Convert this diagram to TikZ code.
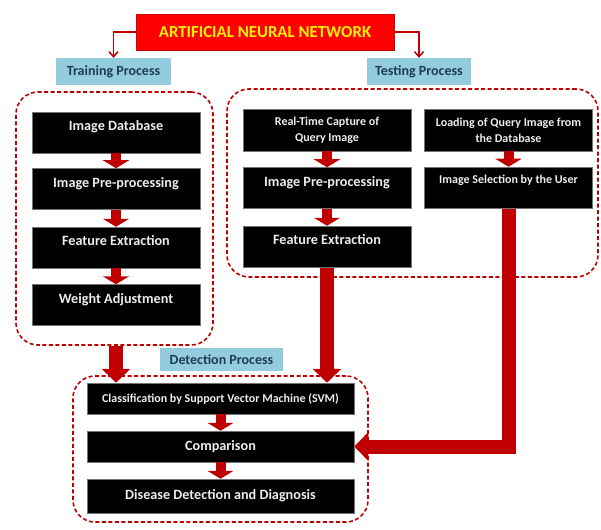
\documentclass[tikz,border=0pt]{standalone}
\usepackage{fontspec}
\setmainfont{Carlito}
\usetikzlibrary{arrows.meta,backgrounds}
\definecolor{darkred}{HTML}{C00000}
\definecolor{lblblue}{HTML}{93CDDD}
\definecolor{lbltext}{HTML}{1F3A5A}
\tikzset{
  annbox/.style={fill=red, draw=red!80!black, line width=0.6pt, text=yellow, font=\bfseries\fontsize{16.8}{19}\selectfont, minimum width=258pt, minimum height=36pt, inner sep=0pt},
  lblbox/.style={fill=lblblue, text=lbltext, font=\bfseries\fontsize{14}{16}\selectfont, minimum height=27pt, inner sep=0pt},
  grpbox/.style={draw=darkred, line width=1.6pt, dash pattern=on 4pt off 2.5pt, rounded corners=22pt, inner sep=0pt},
  procbox/.style={fill=black, draw=black!55, line width=0.5pt, text=white!93!black, font=\bfseries\fontsize{14.2}{16}\selectfont, minimum width=168pt, inner sep=0pt, align=center},
  uppertext/.style={text height=18.5pt, text depth=22.5pt},
  smalltext/.style={font=\bfseries\fontsize{12}{16}\selectfont},
  widebox/.style={minimum width=267pt},
  smallarrow/.style={draw=darkred, line width=10pt, -{Triangle[length=8pt, width=26pt]}},
  bigarrow/.style={draw=darkred, line width=14pt, line join=miter, -{Triangle[length=14pt, width=28pt]}},
  annarrow/.style={draw=darkred, line width=1.5pt, -{Straight Barb[length=5pt, width=9pt]}}
}

\begin{document}
\begin{tikzpicture}[x=1pt, y=-1pt]
  \useasboundingbox (0,0) rectangle (601,529);

  % header
  \node[annbox] (ann) at (265,32) {ARTIFICIAL NEURAL NETWORK};
  \node[lblbox, minimum width=115pt] (trainlbl) at (113.5,71.5) {Training Process};
  \node[lblbox, minimum width=104pt] (testlbl) at (419,71.5) {Testing Process};
  \draw[annarrow] (ann.west) -| (trainlbl.north);
  \draw[annarrow] (ann.east) -| (testlbl.north);

  % frames
  \node[grpbox, minimum width=197pt, minimum height=253pt] (traingrp) at (114.5,218.5) {};
  \node[grpbox, minimum width=371pt, minimum height=188pt] (testgrp) at (412.5,183) {};
  \node[grpbox, minimum width=295pt, minimum height=146pt] (detgrp) at (220.5,449) {};
  \node[lblbox, minimum width=123pt, minimum height=23pt] (detlbl) at (221.5,359.5) {Detection Process};

  % training
  \node[procbox, uppertext] (imgdb) at (116,132.5) {Image Database};
  \node[procbox, uppertext] (trpre) at (116,189) {Image Pre-processing};
  \node[procbox, uppertext] (trfe) at (116,247.5) {Feature Extraction};
  \node[procbox, uppertext] (weight) at (116,305) {Weight Adjustment};
  \foreach \a/\b in {imgdb/trpre, trpre/trfe, trfe/weight}
    \draw[smallarrow] (\a.south) -- (\b.north);

  % testing
  \node[procbox, smalltext, minimum height=42pt] (capture) at (327,130) {Real-Time Capture of\\Query Image};
  \node[procbox, uppertext] (tspre) at (327,188) {Image Pre-processing};
  \node[procbox, uppertext] (tsfe) at (327,246.5) {Feature Extraction};
  \node[procbox, smalltext, minimum height=42pt] (loading) at (508.5,130) {Loading of Query Image from\\the Database};
  \node[procbox, smalltext, text height=16pt, text depth=25pt] (select) at (508.5,187.5) {Image Selection by the User};
  \foreach \a/\b in {capture/tspre, tspre/tsfe, loading/select}
    \draw[smallarrow] (\a.south) -- (\b.north);

  % detection
  \node[procbox, widebox, smalltext, minimum height=31pt] (svm) at (220.5,398.5) {Classification by Support Vector Machine (SVM)};
  \node[procbox, widebox, minimum height=31pt] (cmp) at (220.5,446.5) {Comparison};
  \node[procbox, widebox, minimum height=34pt] (disease) at (220.5,496) {Disease Detection and Diagnosis};
  \foreach \a/\b in {svm/cmp, cmp/disease}
    \draw[smallarrow] (\a.south) -- (\b.north);

  % big arrows, under the frames
  \begin{pgfonlayer}{background}
    \draw[bigarrow] (traingrp.south -| weight) -- (svm.north -| weight);
    \draw[bigarrow] (tsfe.south) -- (tsfe.south |- svm.north);
    \draw[bigarrow] (select.south) |- (cmp.east);
  \end{pgfonlayer}
\end{tikzpicture}
\end{document}
